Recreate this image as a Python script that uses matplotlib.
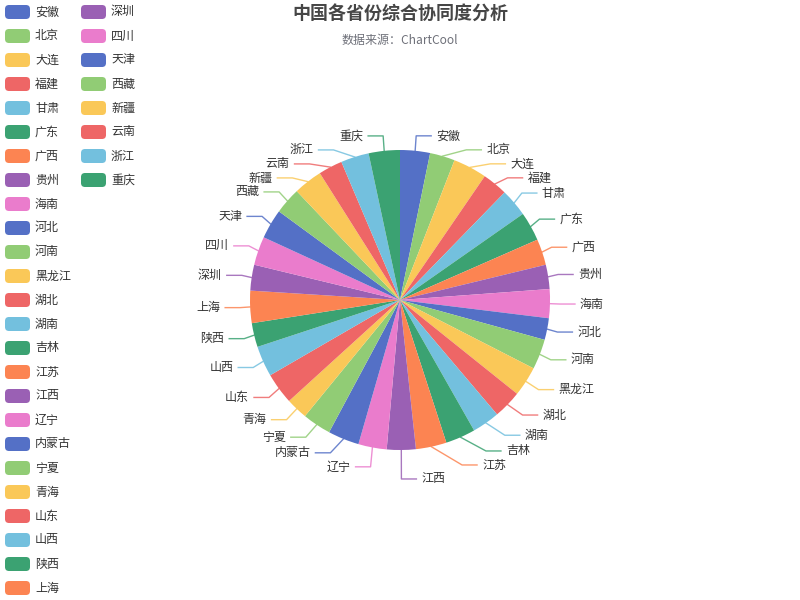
import numpy as np
import matplotlib
matplotlib.use("Agg")
from matplotlib import pyplot as plt
from matplotlib.patches import FancyBboxPatch

plt.rcParams['font.family'] = ['Noto Sans CJK SC', 'DejaVu Sans']

provinces = ["安徽", "北京", "大连", "福建", "甘肃", "广东", "广西", "贵州", "海南",
             "河北", "河南", "黑龙江", "湖北", "湖南", "吉林", "江苏", "江西", "辽宁",
             "内蒙古", "宁夏", "青海", "山东", "山西", "陕西", "上海", "深圳", "四川",
             "天津", "西藏", "新疆", "云南", "浙江", "重庆"]
scores = [11.6, 9.7, 13.1, 9.8, 10.8, 11.3, 10.1, 9.4, 11.2,
          8.4, 11.7, 11.6, 11.0, 10.7, 11.6, 11.9, 11.2, 11.0,
          12.1, 11.1, 8.4, 12.2, 11.9, 9.3, 12.5, 10.0, 11.1,
          11.5, 10.3, 11.2, 9.3, 10.9, 12.1]

palette = ['#5470c6', '#91cc75', '#fac858', '#ee6666', '#73c0de',
           '#3ba272', '#fc8452', '#9a60b4', '#ea7ccc']
colors = [palette[i % len(palette)] for i in range(len(provinces))]

px = 0.72  # px -> pt at dpi 100
cx, cy, r = 400, 300, 150

fig = plt.figure(figsize=(8, 6), dpi=100)
ax = fig.add_axes([0, 0, 1, 1])
ax.pie(scores, colors=colors, center=(cx, cy), radius=r, startangle=-90,
       counterclock=True, wedgeprops=dict(linewidth=0))
ax.set_xlim(0, 800)
ax.set_ylim(600, 0)
ax.set_aspect('equal')
ax.axis('off')

# outside labels: push down on overlap, then put x back on an ellipse per quarter
vals = np.array(scores)
ends = np.cumsum(vals) / vals.sum() * 360
mids = ends - vals / vals.sum() * 180
RX, RY = 160, 165
labels = []
for i, a in enumerate(mids):
    t = np.radians(a)
    side = 1 if a < 180 else -1
    labels.append(dict(i=i, side=side,
                       ex0=cx + r * np.sin(t), ey0=cy - r * np.cos(t),
                       ndx=abs(RX * np.sin(t)), y=cy - RY * np.cos(t)))

for side in (1, -1):
    grp = sorted([l for l in labels if l['side'] == side], key=lambda l: l['y'])
    for k in range(1, len(grp)):
        if grp[k]['y'] < grp[k - 1]['y'] + 14:
            grp[k]['y'] = grp[k - 1]['y'] + 14
    for lower in (False, True):
        semi = [l for l in grp if (l['y'] > cy) == lower]
        if not semi:
            continue
        far = max(semi, key=lambda l: abs(l['y'] - cy))
        fdy = abs(far['y'] - cy)
        rb = fdy / np.sqrt(1 - (far['ndx'] / RX) ** 2) if far['ndx'] < RX else RX
        for l in semi:
            dy = abs(l['y'] - cy)
            l['dx'] = RX * np.sqrt(max(0.0, 1 - (dy / rb) ** 2))

for l in labels:
    side, y = l['side'], l['y']
    ex = cx + side * l['dx']
    c = colors[l['i']]
    ax.plot([l['ex0'], ex, ex + side * 15], [l['ey0'], y, y], color=c, lw=1, alpha=0.85)
    ax.text(ex + side * 20, y, provinces[l['i']], fontsize=12 * px, color='#333333',
            ha='left' if side == 1 else 'right', va='center')

# legend
for i, name in enumerate(provinces):
    col, row = divmod(i, 25)
    x0 = 5 + col * 76
    yc = 12 + row * 24
    ax.add_patch(FancyBboxPatch((x0, yc - 7), 25, 14,
                                boxstyle="round,pad=0,rounding_size=4",
                                facecolor=colors[i], edgecolor='none'))
    ax.text(x0 + 30, yc, name, fontsize=12 * px, color='#333333', va='center', ha='left')

ax.text(400, 15, "中国各省份综合协同度分析", fontsize=18 * px, fontweight='bold',
        color='#464646', ha='center', va='center')
ax.text(400, 40, "数据来源：ChartCool", fontsize=12 * px, color='#6e7079',
        ha='center', va='center')

fig.savefig("out.png", dpi=100)
